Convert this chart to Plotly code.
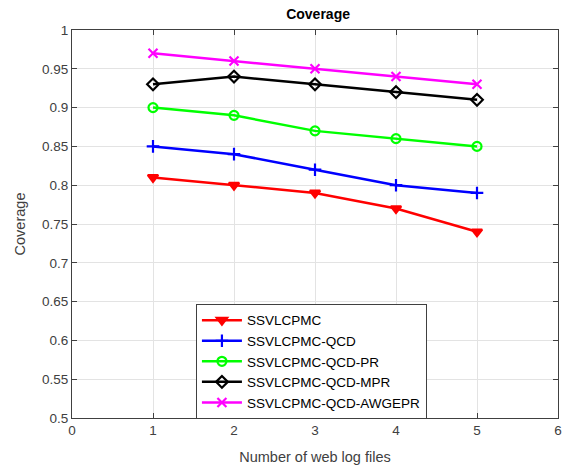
import plotly.graph_objects as go

x_files = [1, 2, 3, 4, 5]
ssvlcpmc = [0.81, 0.80, 0.79, 0.77, 0.74]
ssvlcpmc_qcd = [0.85, 0.84, 0.82, 0.80, 0.79]
ssvlcpmc_qcd_pr = [0.90, 0.89, 0.87, 0.86, 0.85]
ssvlcpmc_qcd_mpr = [0.93, 0.94, 0.93, 0.92, 0.91]
ssvlcpmc_qcd_awgepr = [0.97, 0.96, 0.95, 0.94, 0.93]

series = [
    ("SSVLCPMC", ssvlcpmc, "#ff0000", "triangle-down"),
    ("SSVLCPMC-QCD", ssvlcpmc_qcd, "#0000ff", "cross-thin-open"),
    ("SSVLCPMC-QCD-PR", ssvlcpmc_qcd_pr, "#00ff00", "circle-open"),
    ("SSVLCPMC-QCD-MPR", ssvlcpmc_qcd_mpr, "#000000", "diamond-open"),
    ("SSVLCPMC-QCD-AWGEPR", ssvlcpmc_qcd_awgepr, "#ff00ff", "x-thin-open"),
]

fig = go.Figure()
for name, vals, color, sym in series:
    fig.add_trace(go.Scatter(
        x=x_files, y=vals, name=name, mode="lines+markers",
        line=dict(color=color, width=2.5),
        marker=dict(symbol=sym, size=9, color=color,
                    line=dict(color=color, width=2.2)),
    ))

font_fam = "Liberation Sans, Arial, sans-serif"
axis_common = dict(
    showline=True, linecolor="#404040", linewidth=1, mirror="ticks",
    ticks="inside", ticklen=5, tickcolor="#404040",
    showgrid=True, gridcolor="#e3e3e3", gridwidth=1, zeroline=False,
    tickfont=dict(family=font_fam, size=13.5, color="#404040"),
)

fig.update_layout(
    width=568, height=470,
    paper_bgcolor="white", plot_bgcolor="white",
    margin=dict(l=72, r=6, t=30, b=52),
    title=dict(text="<b>Coverage</b>", x=0.56, xanchor="center", y=0.97, yanchor="middle",
               font=dict(family=font_fam, size=14, color="#000000")),
    xaxis=dict(range=[0, 6], tickvals=[0, 1, 2, 3, 4, 5, 6],
               title=dict(text="Number of web log files", standoff=14,
                          font=dict(family=font_fam, size=14.5, color="#404040")),
               **axis_common),
    yaxis=dict(range=[0.5, 1], tickvals=[0.5, 0.55, 0.6, 0.65, 0.7, 0.75, 0.8, 0.85, 0.9, 0.95, 1],
               ticktext=["0.5", "0.55", "0.6", "0.65", "0.7", "0.75", "0.8", "0.85", "0.9", "0.95", "1"],
               title=dict(text="Coverage", standoff=12,
                          font=dict(family=font_fam, size=14.5, color="#404040")),
               **axis_common),
    legend=dict(x=0.255, y=0.294, xanchor="left", yanchor="top",
                bgcolor="white", bordercolor="#404040", borderwidth=1,
                font=dict(family=font_fam, size=13.5, color="#000000"),
                tracegroupgap=0, itemwidth=40),
    showlegend=True,
)

fig.write_html("out.html", config={"displayModeBar": False},
               post_script="document.body.style.margin='0';")
